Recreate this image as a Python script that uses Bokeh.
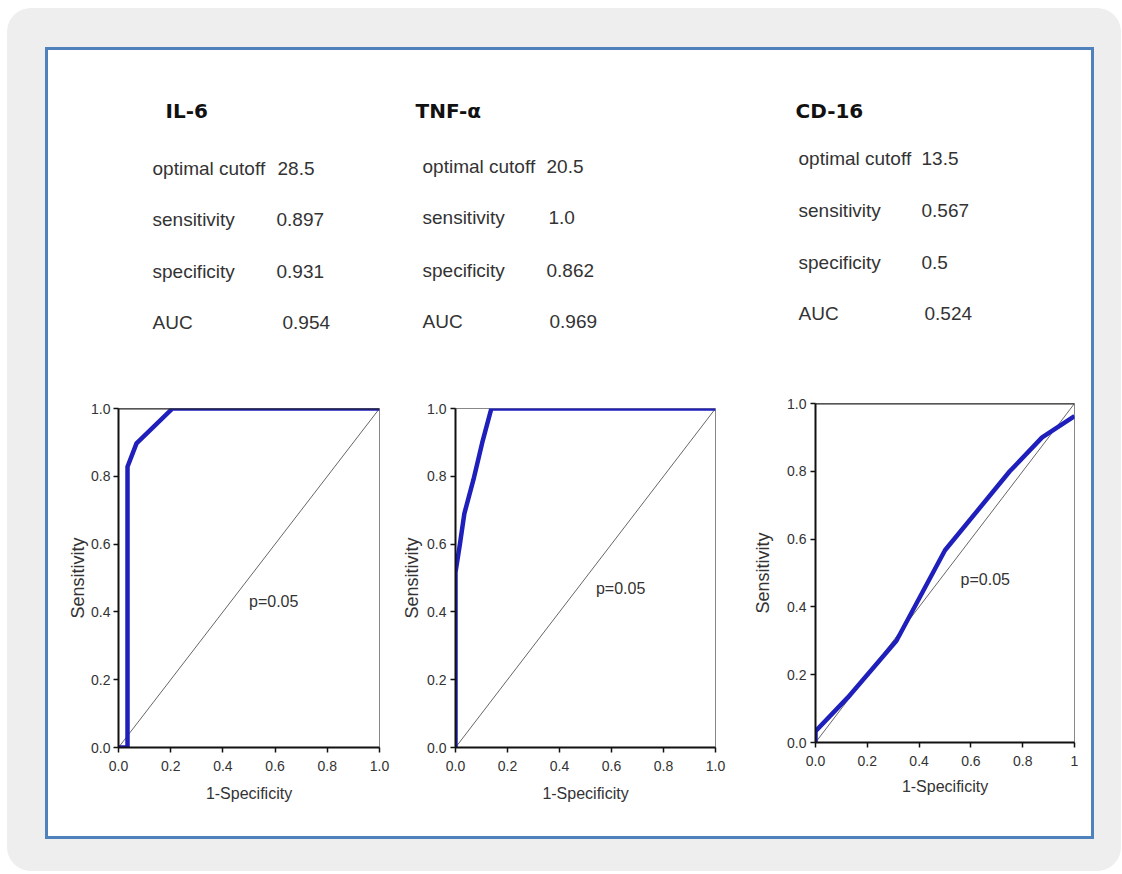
from bokeh.plotting import figure
from bokeh.layouts import column, row
from bokeh.models import Range1d, FixedTicker, Label, Span
from bokeh.core.properties import value
from bokeh.embed import file_html
from bokeh.resources import INLINE

# ---------------- data ----------------
markers = ["IL-6", "TNF-α", "CD-16"]
stat_names = ["optimal cutoff", "sensitivity", "specificity", "AUC"]
il6_stats = ["28.5", "0.897", "0.931", "0.954"]
tnf_stats = ["20.5", "1.0", "0.862", "0.969"]
cd16_stats = ["13.5", "0.567", "0.5", "0.524"]

il6_fpr = [0.0, 0.0345, 0.0345, 0.069, 0.207, 1.0]
il6_tpr = [0.0, 0.0, 0.828, 0.897, 1.0, 1.0]
tnf_fpr = [0.0, 0.0, 0.017, 0.034, 0.069, 0.103, 0.138, 1.0]
tnf_tpr = [0.0, 0.517, 0.6, 0.69, 0.79, 0.9, 1.0, 1.0]
cd16_fpr = [0.0, 0.0, 0.125, 0.3125, 0.5, 0.75, 0.875, 1.0]
cd16_tpr = [0.0, 0.033, 0.133, 0.3, 0.567, 0.8, 0.9, 0.963]

diag = [0.0, 1.0]
p_label = "p=0.05"
tick_values = [0.0, 0.2, 0.4, 0.6, 0.8, 1.0]
tick_labels = ["0.0", "0.2", "0.4", "0.6", "0.8", "1.0"]
cd16_x_tick_labels = ["0.0", "0.2", "0.4", "0.6", "0.8", "1"]
x_axis_label = "1-Specificity"
y_axis_label = "Sensitivity"

# ---------------- styles / layout constants ----------------
FONT = "Liberation Sans"
TXT = "#333333"
CURVE = "#1f1fbb"

# text header panel (pixel coordinates inside the blue box)
title_x = [117, 367, 747]
title_y = [60, 60, 60]
label_x = [104, 374, 750]
value_x = [[229, 228, 228, 234], [498, 500, 498, 501], [873, 873, 873, 876]]
row_y = [[118, 169, 221, 272], [116, 167, 220, 271], [108, 160, 212, 263]]

tf = figure(width=1043, height=330, x_range=Range1d(0, 1043), y_range=Range1d(330, 0),
            toolbar_location=None, output_backend="svg", min_border=0,
            x_axis_location=None, y_axis_location=None, outline_line_color=None)
tf.grid.visible = False

tf.text(x=title_x, y=title_y, text=markers, text_font=value("DejaVu Sans"),
        text_font_style="bold", text_font_size="20px", text_color="#111111",
        text_baseline="middle", text_align="left")

all_stats = [il6_stats, tnf_stats, cd16_stats]
for i in range(3):
    tf.text(x=[label_x[i]] * 4, y=row_y[i], text=stat_names, text_font=value(FONT),
            text_font_size="19px", text_color=TXT, text_baseline="middle", text_align="left")
    tf.text(x=value_x[i], y=row_y[i], text=all_stats[i], text_font=value(FONT),
            text_font_size="19px", text_color=TXT, text_baseline="middle", text_align="left")


def roc_fig(fpr, tpr, xlabels, width, left, right, lab_standoff, tick_standoff,
            xlab_standoff, p_pos, top_span):
    p = figure(width=width, height=456, x_range=Range1d(0, 1), y_range=Range1d(0, 1),
               toolbar_location=None, output_backend="svg",
               min_border_top=28, min_border_right=right,
               min_border_bottom=89, min_border_left=left)
    p.grid.visible = False
    p.outline_line_color = "#888888"
    p.outline_line_width = 1
    p.xaxis.ticker = FixedTicker(ticks=tick_values)
    p.yaxis.ticker = FixedTicker(ticks=tick_values)
    p.xaxis.major_label_overrides = dict(zip(tick_values, xlabels))
    p.yaxis.major_label_overrides = dict(zip(tick_values, tick_labels))
    p.xaxis.axis_label = x_axis_label
    p.yaxis.axis_label = y_axis_label
    for ax in p.axis:
        ax.axis_line_color = "#111111"
        ax.axis_line_width = 2
        ax.major_tick_line_color = "#111111"
        ax.major_tick_line_width = 1.5
        ax.major_tick_out = 5
        ax.major_tick_in = 0
        ax.minor_tick_out = 0
        ax.minor_tick_in = 0
        ax.major_label_text_font = FONT
        ax.major_label_text_font_size = "14px"
        ax.major_label_text_color = TXT
        ax.axis_label_text_font = FONT
        ax.axis_label_text_font_style = "normal"
        ax.axis_label_text_color = TXT
    p.xaxis.axis_label_text_font_size = "16px"
    p.yaxis.axis_label_text_font_size = "18px"
    p.xaxis.major_label_standoff = 8
    p.xaxis.axis_label_standoff = xlab_standoff
    p.yaxis.major_label_standoff = tick_standoff
    p.yaxis.axis_label_standoff = lab_standoff
    if top_span:
        p.add_layout(Span(location=1, dimension="width", line_color="#222222", line_width=2))
    p.line(diag, diag, line_color="#666666", line_width=1)
    p.line(fpr, tpr, line_color=CURVE, line_width=4.5, line_join="round")
    p.add_layout(Label(x=p_pos[0], y=p_pos[1], text=p_label, text_font=FONT,
                       text_font_size="16px", text_color=TXT, text_baseline="middle"))
    return p


f1 = roc_fig(il6_fpr, il6_tpr, tick_labels, 347, 70, 16, 0, 3, 11, (0.5, 0.43), True)
f2 = roc_fig(tnf_fpr, tnf_tpr, tick_labels, 350, 60, 30, 2, 4, 11, (0.54, 0.47), False)
f3 = roc_fig(cd16_fpr, cd16_tpr, cd16_x_tick_labels, 346, 70, 17, 11, 4, 9, (0.56, 0.48), True)
f3.margin = (-5, 0, 5, 0)

roc_row = row(f1, f2, f3, spacing=0)
inner = column(tf, roc_row, spacing=0,
               styles={"border": "3px solid #4f81bd", "background-color": "#ffffff"})
inner.margin = (39, 27, 32, 38)
outer = column(inner, styles={"background-color": "#eeeeee", "border-radius": "24px"})
outer.margin = (8, 0, 0, 7)

open("out.html", "w").write(file_html(outer, INLINE))
